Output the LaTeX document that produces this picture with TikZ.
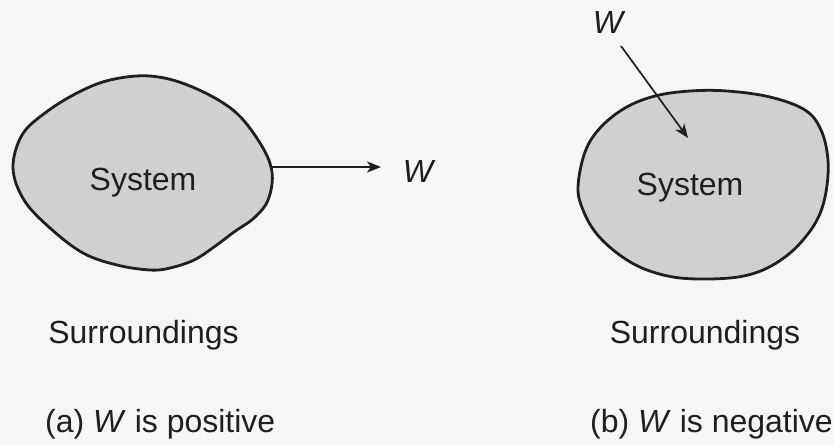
\documentclass[tikz,border=0pt]{standalone}
\usepackage{fontspec}
\setmainfont{Liberation Sans}
\usetikzlibrary{arrows.meta}
\definecolor{ink}{HTML}{1F1F1F}
\definecolor{blobfill}{HTML}{D0D0D0}
\definecolor{paper}{HTML}{F6F6F6}
\tikzset{
  blob/.style={draw=ink, line width=2.8pt, fill=blobfill},
  lbl/.style={text=ink, inner sep=0pt, font=\fontsize{32}{38}\selectfont},
  arr/.style={draw=ink, line width=1.7pt, -{Stealth[length=14pt,width=11pt,inset=4pt]}}
}
\begin{document}
\begin{tikzpicture}[x=1pt,y=-1pt]
\fill[paper] (0,0) rectangle (834,445);
\useasboundingbox (0,0) rectangle (834,445);
% left system
\draw[blob] plot[smooth cycle, tension=0.6] coordinates {
 (13,168) (22,135) (45,113) (77,93) (110,80) (150,76) (190,86) (233,110)
 (260,143) (272,172) (268,200) (254,218) (234,232) (214,247) (194,260)
 (170,268) (150,270) (117,265) (83,253) (50,228) (24,200)};
\node[lbl, anchor=base] (sysA) at (143,190) {System};
\coordinate (aStart) at (272,167);
\coordinate (aTip) at (381,167);
\node[lbl, anchor=base, font=\fontsize{32}{38}\selectfont\itshape] (wA) at (418,182) {W};
\draw[arr] (aStart) -- (aTip);
\node[lbl, anchor=base] (surA) at (143.5,343) {Surroundings};
\node[lbl, anchor=base west] (capA) at (45,432) {(a) \textit{W} is positive};
% right system
\draw[blob] plot[smooth cycle, tension=0.6] coordinates {
 (578,187) (585,152) (600,128) (625,108) (655,96) (690,91) (727,91) (770,97)
 (805,110) (821,130) (828,160) (826,192) (818,218) (803,240) (785,257)
 (763,270) (738,277) (705,279) (673,277) (642,268) (617,253) (596,233) (583,210)};
\node[lbl, anchor=base] (sysB) at (690,195) {System};
\node[lbl, anchor=base, font=\fontsize{32}{38}\selectfont\itshape] (wB) at (608,33) {W};
\coordinate (bStart) at (621,46);
\coordinate (bTip) at (688,138);
\draw[arr] (bStart) -- (bTip);
\node[lbl, anchor=base] (surB) at (705,343) {Surroundings};
\node[lbl, anchor=base east] (capB) at (833,432) {(b) \textit{W} is negative};
\end{tikzpicture}
\end{document}
